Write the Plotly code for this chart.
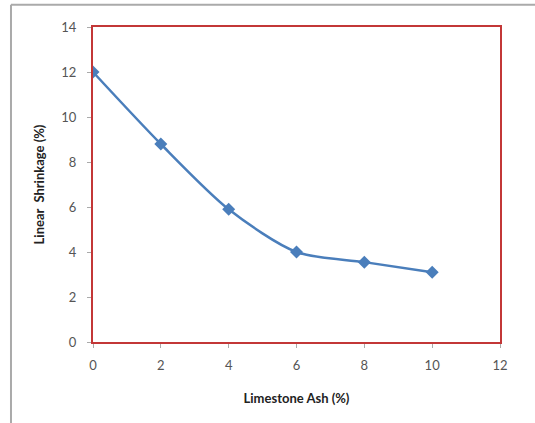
import plotly.graph_objects as go

ash_pct = [0, 2, 4, 6, 8, 10]
shrinkage = [12.0, 8.8, 5.9, 4.0, 3.55, 3.1]
x_ticks = [0, 2, 4, 6, 8, 10, 12]
y_ticks = [0, 2, 4, 6, 8, 10, 12, 14]

red = "rgb(195,55,55)"
blue = "#4a7ebb"

fig = go.Figure()
fig.add_trace(go.Scatter(
    x=ash_pct, y=shrinkage, mode="lines+markers",
    line=dict(color=blue, width=2.5, shape="spline", smoothing=0.8),
    marker=dict(symbol="diamond", size=10, color=blue),
    showlegend=False,
))

axis_common = dict(
    showline=True, linecolor=red, linewidth=2, mirror=True,
    showgrid=False, zeroline=False,
    ticks="outside", ticklen=4, tickcolor="#aaaaaa", tickwidth=1,
    tickfont=dict(family="Lato", size=13, color="#555555"),
)

fig.update_xaxes(range=[0, 12], tickvals=x_ticks, ticklabelstandoff=6,
                 title=dict(text="<b>Limestone Ash (%)</b>", font=dict(family="Lato", size=13, color="#222222"), standoff=22),
                 **axis_common)
fig.update_yaxes(range=[0, 14], tickvals=y_ticks, ticklabelstandoff=8,
                 title=dict(text="<b>Linear  Shrinkage (%)</b>", font=dict(family="Lato", size=13, color="#222222"), standoff=14),
                 **axis_common)

# outer frame (chart border)
fig.add_shape(type="line", xref="paper", yref="paper", x0=-0.2015, x1=1.2, y0=1.071, y1=1.071,
              line=dict(color="#aaaaaa", width=2))
fig.add_shape(type="line", xref="paper", yref="paper", x0=-0.2015, x1=-0.2015, y0=1.071, y1=-0.3,
              line=dict(color="#aaaaaa", width=2))

fig.update_layout(
    width=535, height=423,
    margin=dict(l=93, r=35, t=27, b=81),
    paper_bgcolor="white", plot_bgcolor="white",
)

fig.write_html("out.html")
